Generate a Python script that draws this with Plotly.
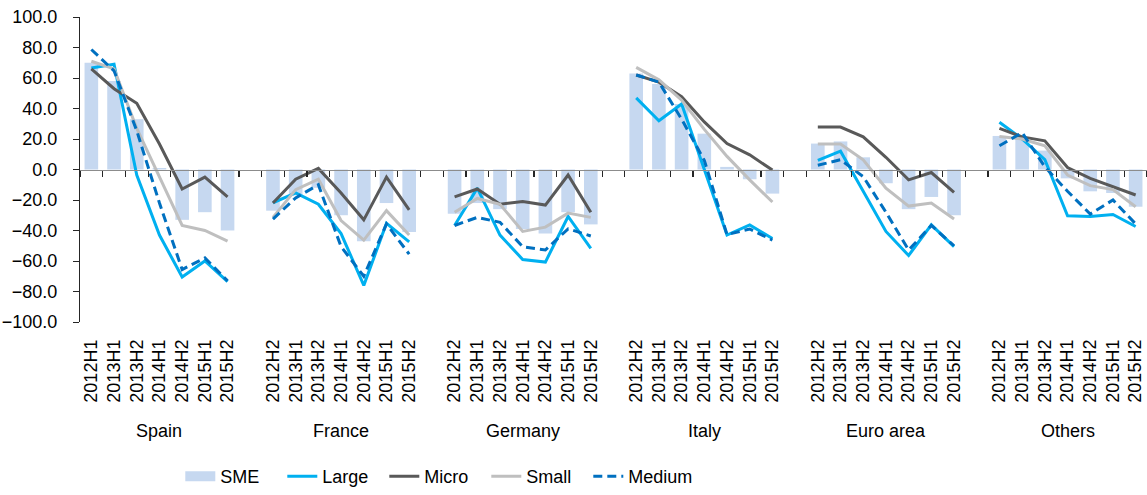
import plotly.graph_objects as go

countries = ["Spain", "France", "Germany", "Italy", "Euro area", "Others"]
periods_spain = ["2012H1", "2013H1", "2013H2", "2014H1", "2014H2", "2015H1", "2015H2"]
periods_other = ["2012H2", "2013H1", "2013H2", "2014H1", "2014H2", "2015H1", "2015H2"]

# values in country order (7 periods each)
sme = [70, 58, 33, 1, -33, -28, -40,
       -27, -17, -12, -30, -47, -22, -41,
       -29, -22, -26, -39, -42, -28, -36,
       63, 56, 43, 23.5, 1.7, -6.4, -15.8,
       17, 18.4, 8, -9, -26, -18, -30,
       22, 21, 12.4, -5.8, -14.3, -15.4, -24.4]
large = [66.5, 69, -3.6, -43, -70.5, -60, -73.5,
         -21.8, -15.4, -22.8, -42, -76, -35.3, -47.4,
         -36.7, -12.2, -43, -59, -60.7, -30.8, -51.7,
         47, 32, 43, 0.6, -43, -36.3, -45.3,
         6, 12, -14.3, -40.6, -56.4, -36.3, -50.6,
         31, 20, 6.4, -30.3, -30.8, -29.5, -37.4]
micro = [66, 53, 43.4, 16.7, -12.8, -5, -18,
         -22, -6.4, 0.7, -15.4, -33, -5, -26.5,
         -18, -12.8, -22.8, -21, -23.3, -3.6, -28,
         62, 57.3, 47.7, 31.2, 17, 9.6, -0.4,
         27.8, 27.8, 21.4, 8, -6.8, -2, -15,
         27, 21.4, 18.8, 1.3, -5.8, -11, -16.7]
small = [71, 66, 27, -4.7, -36.7, -40, -47,
         -31.4, -13.2, -6.4, -33.5, -46.3, -27, -43,
         -28, -19, -22.8, -40.6, -37.8, -28.6, -31.4,
         67, 58.8, 45.5, 26.3, 8.6, -6.8, -21.3,
         16.7, 16.7, 6.4, -12.2, -24, -22, -32.5,
         21.6, 20, 15.6, -3.6, -10.6, -13.2, -24.4]
medium = [78.7, 64.7, 25.4, -22, -65.6, -58, -73,
          -32.5, -18.6, -10, -50.6, -70, -35.7, -55.5,
          -36.7, -31.4, -34.6, -50.6, -52.8, -38.9, -43.6,
          62, 57.3, 33, 6, -42.7, -39, -46.3,
          2.8, 6.4, -4.7, -28, -52.8, -36.7, -50,
          15.6, 24.2, 1.7, -14.3, -29.2, -20, -35.7]

N = 7
STEP = N + 1  # one empty slot between groups

xpos = []
ticktext = []
for g, c in enumerate(countries):
    per = periods_spain if g == 0 else periods_other
    for i in range(N):
        xpos.append(g * STEP + i)
        ticktext.append(per[i])


def with_gaps(vals):
    xs, ys = [], []
    for g in range(len(countries)):
        for i in range(N):
            xs.append(xpos[g * N + i])
            ys.append(vals[g * N + i])
        xs.append(None)
        ys.append(None)
    return xs, ys


total_slots = len(countries) * STEP - 1
xr = [-0.5, total_slots - 0.5]
boundaries = [b - 0.5 for b in range(total_slots + 1)]

FONT = "Liberation Sans, Arial, sans-serif"
BAR_COLOR = "#C6D8F0"

fig = go.Figure()
fig.add_trace(go.Bar(x=xpos, y=sme, name="SME", marker=dict(color=BAR_COLOR, line=dict(width=0)),
                     width=0.6, showlegend=False, xaxis="x", yaxis="y", hoverinfo="skip"))
# legend entry for SME drawn as a wide swatch
fig.add_trace(go.Scatter(x=[None], y=[None], name="SME", mode="lines",
                         line=dict(color=BAR_COLOR, width=11), xaxis="x2", yaxis="y"))

series = [("Large", large, "#00B0F0", "solid"),
          ("Micro", micro, "#595959", "solid"),
          ("Small", small, "#BFBFBF", "solid"),
          ("Medium", medium, "#0070C0", "9px,5px")]
for name, vals, col, dash in series:
    xs, ys = with_gaps(vals)
    fig.add_trace(go.Scatter(x=xs, y=ys, name=name, mode="lines",
                             line=dict(color=col, width=3, dash=dash),
                             connectgaps=False, xaxis="x2", yaxis="y", hoverinfo="skip"))
# invisible spacer entry so the last legend label is not clipped
fig.add_trace(go.Scatter(x=[None], y=[None], name="\u00a0", mode="lines",
                         line=dict(color="rgba(0,0,0,0)", width=0), xaxis="x2", yaxis="y"))

for g, c in enumerate(countries):
    fig.add_annotation(x=g * STEP + (N - 1) / 2, y=0, xref="x", yref="paper",
                       text=c, showarrow=False, yshift=-109, yanchor="middle",
                       font=dict(size=18, color="#000000", family=FONT))

fig.update_layout(
    width=1147, height=495,
    margin=dict(l=80, r=0, t=17, b=165),
    plot_bgcolor="white", paper_bgcolor="white",
    font=dict(family=FONT, size=18, color="#000000"),
    bargap=0.4,
    showlegend=True,
    legend=dict(orientation="h", x=0.094, xanchor="left", y=-0.508, yanchor="middle",
                font=dict(size=18), entrywidth=57, entrywidthmode="pixels",
                traceorder="normal", itemwidth=30),
    xaxis=dict(range=xr, tickmode="array", tickvals=xpos, ticktext=ticktext,
               tickangle=-90, ticks="", showline=False, showgrid=False, zeroline=False,
               ticklabelstandoff=13, tickfont=dict(size=18), automargin=False,
               ticklabeloverflow="allow"),
    xaxis2=dict(range=xr, overlaying="x", anchor="free", position=0.5, side="bottom",
                showline=True, linecolor="#8C8C8C", linewidth=1.5,
                tickmode="array", tickvals=boundaries, ticks="outside", ticklen=6,
                tickwidth=1.2, tickcolor="#262626", showticklabels=False,
                showgrid=False, zeroline=False, automargin=False),
    yaxis=dict(range=[-100, 100], dtick=20, tick0=0, tickformat=".1f",
               showline=True, linecolor="#262626", linewidth=1.2,
               ticks="outside", ticklen=6, tickcolor="#262626",
               showgrid=False, zeroline=False, ticklabelstandoff=12,
               tickfont=dict(size=18), automargin=False, ticklabeloverflow="allow"),
)

fig.write_html(
    "out.html",
    config={"displayModeBar": False, "staticPlot": True},
    post_script=("document.documentElement.style.margin='0';"
                 "document.body.style.margin='0';"
                 "document.documentElement.style.overflow='hidden';"
                 "document.body.style.overflow='hidden';"
                 "var gd=document.getElementById('{plot_id}');"
                 "gd.style.position='fixed';gd.style.left='0px';gd.style.top='0px';"),
)
